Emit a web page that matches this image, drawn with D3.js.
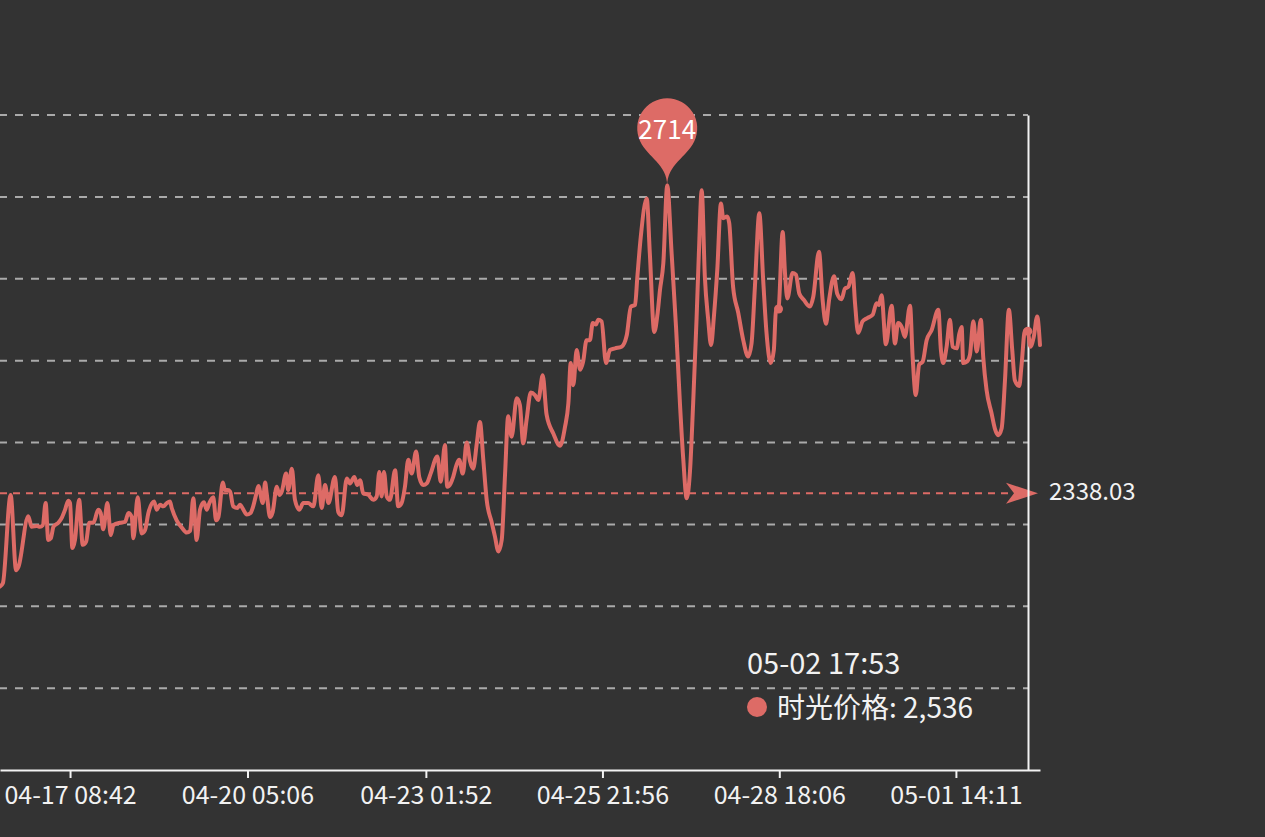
<!DOCTYPE html>
<html><head><meta charset="utf-8">
<script src="https://cdn.jsdelivr.net/npm/d3@7"></script>
<style>html,body{margin:0;padding:0;background:#333;overflow:hidden}svg{display:block}</style>
</head><body><svg id="c" width="1265" height="837"></svg>
<script>
// hours since 04-17 00:00
const hours = [
-18.3,-17.2,-14.2,-12.1,-11.2,-7.4,-6.1,-4.1,-2.9,-1.8,
-0.7,0.3,1.3,2.3,4.2,5.5,6.8,8.0,8.7,9.6,
10.6,12.2,13.6,14.9,16.1,17.7,19.6,20.5,21.5,23.1,
24.4,25.4,28.0,29.9,31.2,32.5,33.1,34.8,36.3,37.6,
38.9,41.1,42.1,43.4,44.7,46.0,47.2,47.9,49.8,51.8,
53.7,55.0,56.2,57.5,58.8,60.3,61.4,62.4,63.9,65.0,
65.9,67.6,68.4,69.5,70.4,71.6,73.2,74.2,75.5,76.8,
78.3,79.3,80.4,81.3,
83.0,83.9,84.5,85.8,86.8,88.4,89.4,90.3,92.0,92.8,
94.2,95.4,97.1,98.6,100.5,102.5,104.4,105.7,107.0,108.3,
110.8,112.1,113.4,115.4,116.6,118.3,119.4,120.5,121.7,123.7,
125.6,126.9,127.9,128.8,129.7,130.8,132.0,134.0,135.2,136.5,
137.8,139.1,140.4,142.1,143.3,144.9,146.2,147.7,150.3,151.6,
153.2,154.1,155.4,156.4,157.7,158.7,160.1,161.6,162.9,164.1,
165.5,166.7,168.0,169.3,171.2,172.5,173.8,175.1,176.4,177.6,
178.9,180.9,
182.1,183.4,184.7,186.3,187.9,189.2,190.9,192.4,195.0,197.6,
199.5,200.8,201.7,202.7,204.0,205.3,206.5,207.8,209.1,210.2,
211.4,212.3,213.6,215.3,216.8,218.8,221.3,223.3,224.9,226.5,
227.4,228.7,231.0,232.2,233.9,235.2,236.1,237.4,238.9,240.6,
242.3,243.8,245.1,246.4,247.7,248.9,250.2,251.1,252.2,253.4,
254.7,255.8,256.9,258.2,259.6,260.5,262.0,262.8,264.3,266.3,
268.2,270.1,271.4,272.7,274.4,275.9,277.2,278.8,280.0,280.8,
281.8,
283.4,284.3,285.2,287.2,288.5,289.8,291.6,293.9,295.2,297.4,
298.8,300.1,301.3,303.2,304.4,306.1,307.4,308.7,310.4,311.3,
312.5,314.2,316.0,318.1,319.6,320.5,321.5,323.2,325.4,326.7,
327.9,329.3,330.5,332.5,333.5,334.7,336.0,337.4,338.9,340.8,
343.4,344.4,345.3,346.6,347.9,348.9,350.5,351.5,352.4,353.0,
354.5,355.6,356.9,358.2,359.8,360.7,362.0,363.9,365.2,366.5,
367.8,369.1,370.6,371.9,372.9,374.6,375.5,376.8,377.9,378.9,
380.2,381.5,382.6
];
const prices = [
2224,2228,2336,2244,2248,2310,2297,2298,2297,2299,
2326,2281,2283,2297,2302,2308,2318,2329,2326,2271,
2281,2330,2275,2279,2302,2302,2318,2314,2294,2326,
2287,2299,2302,2303,2314,2309,2283,2333,2289,2293,
2314,2328,2318,2324,2322,2326,2328,2320,2305,2296,
2290,2292,2332,2281,2318,2327,2318,2326,2333,2305,
2309,2351,2342,2342,2340,2322,2320,2324,2318,2312,
2314,2322,2336,2347,
2326,2351,2338,2309,2315,2346,2336,2340,2362,2342,
2368,2330,2318,2326,2326,2322,2360,2320,2348,2326,
2358,2315,2311,2356,2350,2358,2348,2354,2338,2336,
2330,2334,2364,2334,2364,2334,2330,2366,2322,2326,
2346,2379,2362,2389,2358,2348,2350,2362,2383,2352,
2397,2346,2350,2358,2373,2379,2362,2400,2377,2368,
2399,2425,2379,2330,2303,2285,2267,2281,2362,2432,
2407,2454,
2446,2399,2428,2461,2458,2452,2482,2434,2411,2396,
2419,2448,2497,2470,2513,2489,2499,2525,2525,2546,
2544,2550,2548,2497,2513,2515,2517,2531,2566,2568,
2603,2651,2698,2631,2535,2558,2586,2619,2714,2631,
2541,2448,2379,2332,2366,2448,2550,2631,2708,2603,
2550,2519,2554,2611,2692,2674,2676,2668,2590,2558,
2525,2505,2521,2590,2680,2598,2533,2497,2513,2560,
2563,
2657,2607,2576,2607,2605,2582,2574,2566,2578,2633,
2574,2545,2574,2603,2582,2575,2588,2590,2607,2570,
2534,2548,2552,2556,2570,2568,2580,2520,2567,2521,
2546,2541,2529,2567,2505,2458,2495,2499,2525,2537,
2562,2513,2497,2517,2550,2517,2515,2533,2541,2497,
2499,2507,2548,2511,2550,2505,2464,2436,2417,2409,
2417,2476,2562,2513,2476,2469,2495,2537,2536,2517,
2529,2554,2519
];
const tickLabels = ["04-17 08:42","04-20 05:06","04-23 01:52","04-25 21:56","04-28 18:06","05-01 14:11"];
const yTicks = [2100,2200,2300,2400,2500,2600,2700,2800];
const yRange = [2000, 2800];
const averagePrice = 2338.03;
const seriesName = "时光价格";
const tooltipTime = "05-02 17:53";
const tooltipValue = 2536;
const highlightHours = [281.8, 377.9];

const RED = "#dd6b66", FG = "#f2f2f2", FONT = "'Noto Sans CJK SC','Noto Sans',sans-serif";
const L = 0, R = 1040, T = 115, B = 770, AXIS_X = 1028;

function labelHours(s) {
  const [md, hm] = s.split(" ");
  const [m, d] = md.split("-").map(Number);
  const [hh, mm] = hm.split(":").map(Number);
  return (Date.UTC(2024, m - 1, d, hh, mm) - Date.UTC(2024, 3, 17, 0, 0)) / 3.6e6;
}

const data = hours.map((h, i) => ({h, v: prices[i]})).filter(d => d.v != null);
const x = d3.scaleLinear().domain(d3.extent(data, d => d.h)).range([L, R]);
const y = d3.scaleLinear().domain(yRange).range([B, T]);

const svg = d3.select("#c");
svg.append("rect").attr("width", 1265).attr("height", 837).attr("fill", "#333333");

// grid
svg.append("g").selectAll("line").data(yTicks).join("line")
  .attr("x1", L).attr("x2", AXIS_X).attr("y1", d => y(d)).attr("y2", d => y(d))
  .attr("stroke", "#aaaaaa").attr("stroke-width", 2)
  .attr("stroke-dasharray", "8,8").attr("stroke-dashoffset", 1);

// average mark line
const ya = y(averagePrice);
const tipX = R - 2;
svg.append("line").attr("x1", L).attr("x2", tipX - 24).attr("y1", ya).attr("y2", ya)
  .attr("stroke", RED).attr("stroke-width", 2).attr("stroke-dasharray", "7,6");
svg.append("path")
  .attr("d", `M${tipX},${ya} L${tipX - 32},${ya - 10.5} L${tipX - 24},${ya} L${tipX - 32},${ya + 10.5} Z`)
  .attr("fill", RED);
svg.append("text").attr("x", 1049).attr("y", ya - 4).attr("dominant-baseline", "central")
  .attr("fill", FG).attr("font-family", FONT).attr("font-size", 24)
  .text(averagePrice.toFixed(2));

// x axis
const xAxis = d3.axisBottom(x).tickValues(tickLabels.map(labelHours))
  .tickFormat((d, i) => tickLabels[i]).tickSize(8).tickSizeOuter(0).tickPadding(8);
const gx = svg.append("g").attr("transform", `translate(0,${B})`).call(xAxis);
gx.select(".domain").attr("stroke", FG).attr("stroke-width", 2);
gx.selectAll(".tick line").attr("stroke", FG).attr("stroke-width", 2);
gx.selectAll(".tick text").attr("fill", FG).attr("font-size", 25).attr("font-family", FONT);

// y axis (line only)
const yAxis = d3.axisRight(y).tickValues([]).tickSizeOuter(0);
const gy = svg.append("g").attr("transform", `translate(${AXIS_X},0)`).call(yAxis);
gy.select(".domain").attr("stroke", FG).attr("stroke-width", 2);

// series line
const line = d3.line().x(d => x(d.h)).y(d => y(d.v)).curve(d3.curveMonotoneX);
svg.append("path").datum(data).attr("d", line)
  .attr("fill", "none").attr("stroke", RED).attr("stroke-width", 4)
  .attr("stroke-linejoin", "round").attr("stroke-linecap", "round");

// highlighted points
svg.append("g").selectAll("circle")
  .data(data.filter(d => highlightHours.includes(d.h))).join("circle")
  .attr("cx", d => x(d.h)).attr("cy", d => y(d.v)).attr("r", 4.5).attr("fill", RED);

// max mark point (pin)
const maxD = data.reduce((a, b) => (b.v > a.v ? b : a));
function pinPath(px, py, size) {
  const w = size / 5 * 3, h = Math.max(w, size), r = w / 2;
  const dy = r * r / (h - r), cy = py - h + r + dy;
  const ang = Math.asin(dy / r), dx = Math.cos(ang) * r;
  const tanX = Math.sin(ang), tanY = Math.cos(ang);
  const cp = r * 0.6, cp2 = r * 0.7;
  const p = d3.path();
  p.moveTo(px - dx, cy + dy);
  p.arc(px, cy, r, Math.PI - ang, Math.PI * 2 + ang);
  p.bezierCurveTo(px + dx - tanX * cp, cy + dy + tanY * cp, px, py - cp2, px, py);
  p.bezierCurveTo(px, py - cp2, px - dx + tanX * cp, cy + dy + tanY * cp, px - dx, cy + dy);
  p.closePath();
  return {d: p.toString(), cy};
}
const pin = pinPath(x(maxD.h), y(maxD.v), 100);
svg.append("path").attr("d", pin.d).attr("fill", RED);
svg.append("text").attr("x", x(maxD.h)).attr("y", pin.cy - 1)
  .attr("text-anchor", "middle").attr("dominant-baseline", "central")
  .attr("fill", "#ffffff").attr("font-family", FONT).attr("font-size", 26)
  .text(maxD.v);

// tooltip
const tip = svg.append("g").attr("transform", "translate(735,640)");
tip.append("text").attr("x", 12).attr("y", 34).attr("fill", FG)
  .attr("font-family", FONT).attr("font-size", 29).text(tooltipTime);
tip.append("circle").attr("cx", 22).attr("cy", 67).attr("r", 10).attr("fill", RED);
tip.append("text").attr("x", 42).attr("y", 78).attr("fill", FG)
  .attr("font-family", FONT).attr("font-size", 28)
  .text(`${seriesName}: ${d3.format(",")(tooltipValue)}`);
</script>
</body></html>
